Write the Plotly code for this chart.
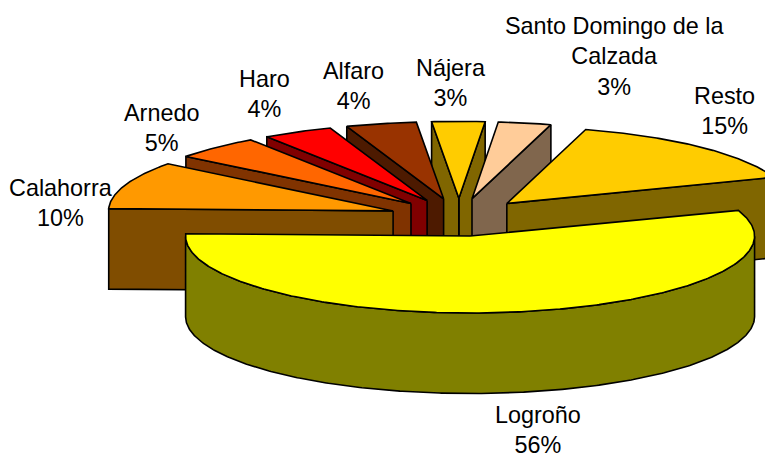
import numpy as np
import plotly.graph_objects as go

# ---- data ----
labels = ["Logroño", "Calahorra", "Arnedo", "Haro", "Alfaro", "Nájera",
          "Santo Domingo de la<br>Calzada", "Resto"]
values = [56, 10, 5, 4, 4, 3, 3, 15]
top_colors = ["#FFFF00", "#FF9900", "#FF6600", "#FF0000", "#993300", "#FFCC00", "#FFCC99", "#FFCC00"]
side_colors = ["#808000", "#804D00", "#803300", "#800000", "#4D1A00", "#806600", "#80664D", "#806600"]

# ---- geometry of the 3D pie, in pixels ----
CX, CY = 459.0, 217.3
RX, RY = 284.5, 77.0
DEPTH = 80.5
EXPLODE = 70.0
START = 19.9  # degrees, slices run clockwise

# ---- label placement (text centre, pixels) ----
label_pos = [(538, 430), (61, 203), (161, 128), (264, 94), (353, 86), (451, 83), (614, 56), (724, 111)]

W, H = 765, 454
LW = 1.6


def build_slice(a0, a1):
    """a0 > a1 clockwise. Returns top polygon and visible side polygons."""
    mid = (a0 + a1) / 2
    m = np.radians(mid)
    vx = CX + EXPLODE * np.cos(m)
    vy = CY - EXPLODE * RY / RX * np.sin(m)
    n = max(int(abs(a0 - a1)) * 2, 4)
    arc = np.linspace(a0, a1, n)
    ax = vx + RX * np.cos(np.radians(arc))
    ay = vy - RY * np.sin(np.radians(arc))
    top_x = [vx, *ax, vx]
    top_y = [vy, *ay, vy]
    sx, sy = [], []

    def wall(xs, ys):
        px = list(xs) + list(xs)[::-1] + [xs[0]]
        py = list(ys) + [y + DEPTH for y in list(ys)[::-1]] + [ys[0]]
        sx.extend(px + [None])
        sy.extend(py + [None])

    # a radial wall shows when its outward normal points down the screen
    def radial_visible(ex, ey, inner):
        nx, ny = -ey, ex
        if nx * (inner[0] - vx) + ny * (inner[1] - vy) > 0:
            nx, ny = -nx, -ny
        return ny > 0

    inner = (ax[n // 2], ay[n // 2])
    if radial_visible(ax[0] - vx, ay[0] - vy, inner):
        wall([vx, ax[0]], [vy, ay[0]])
    if radial_visible(ax[-1] - vx, ay[-1] - vy, inner):
        wall([vx, ax[-1]], [vy, ay[-1]])
    # rim: visible where the arc lies in the lower half of the ellipse
    vis = np.sin(np.radians(arc)) < 0
    if vis.any():
        idx = np.where(vis)[0]
        wall(list(ax[idx]), list(ay[idx]))
    return top_x, top_y, sx, sy, mid


fig = go.Figure()
angle = START
slices = []
for i, v in enumerate(values):
    sweep = v / sum(values) * 360
    tx, ty, sx, sy, mid = build_slice(angle, angle - sweep)
    slices.append((np.sin(np.radians(mid)), i, tx, ty, sx, sy))
    angle -= sweep

# painter's order: back slices first
for _, i, tx, ty, sx, sy in sorted(slices, key=lambda s: -s[0]):
    if sx:
        fig.add_trace(go.Scatter(x=sx, y=sy, mode="lines", fill="toself", fillcolor=side_colors[i],
                                 line=dict(color="black", width=LW), hoverinfo="skip", showlegend=False))
    fig.add_trace(go.Scatter(x=tx, y=ty, mode="lines", fill="toself", fillcolor=top_colors[i],
                             line=dict(color="black", width=LW), hoverinfo="skip", showlegend=False))

for name, v, (lx, ly) in zip(labels, values, label_pos):
    fig.add_annotation(x=lx, y=ly, text=f"{name}<br>{v}%", showarrow=False,
                       font=dict(family="Liberation Sans, Arial, sans-serif", size=23.4, color="black"),
                       xanchor="center", yanchor="middle", align="center")

fig.update_layout(width=W, height=H, margin=dict(l=0, r=0, t=0, b=0),
                  paper_bgcolor="white", plot_bgcolor="white",
                  xaxis=dict(range=[0, W], visible=False, fixedrange=True),
                  yaxis=dict(range=[H, 0], visible=False, fixedrange=True))
fig.write_html("out.html", config=dict(displayModeBar=False),
               post_script="document.body.style.margin='0';document.documentElement.style.overflow='hidden';")
